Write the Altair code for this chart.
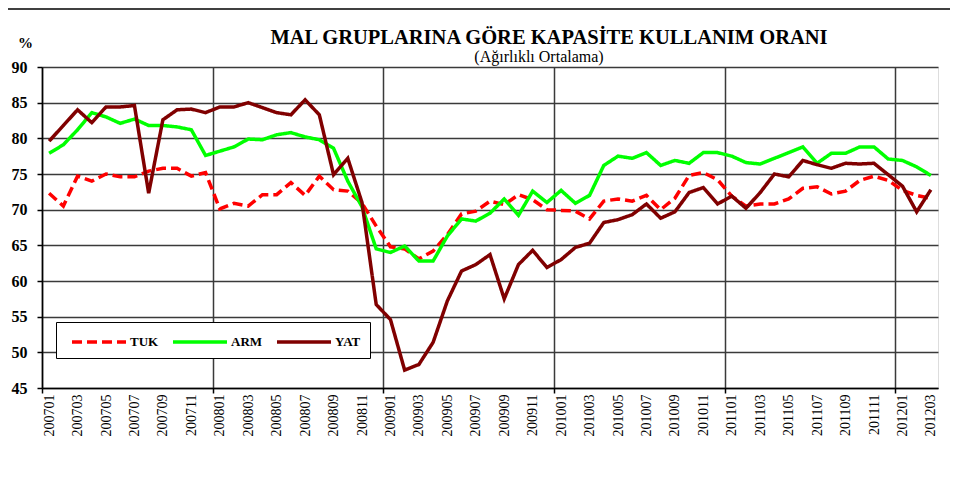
import json
import altair as alt
import pandas as pd

# Monthly labels 2007-01 .. 2012-03
months = [f"{y}{m:02d}" for y in range(2007, 2013) for m in range(1, 13)][:63]

series_names = ["TUK", "ARM", "YAT"]
series_colors = ["#FF0000", "#00FF00", "#800000"]

TUK = [72.3, 70.5, 74.7, 74.0, 75.0, 74.6, 74.6, 75.4, 75.8, 75.8, 74.7, 75.2,
       70.1, 70.9, 70.5, 72.1, 72.1, 73.8, 72.0, 74.7, 72.8, 72.6, 70.9, 67.7,
       64.8, 64.5, 63.1, 64.2, 66.5, 69.4, 69.8, 71.2, 70.7, 72.1, 71.4, 70.0,
       69.9, 69.8, 68.7, 71.2, 71.5, 71.2, 72.0, 70.0, 71.6, 74.8, 75.2, 74.2,
       71.9, 70.5, 70.8, 70.8, 71.5, 73.0, 73.2, 72.2, 72.6, 74.1, 74.7, 74.1,
       72.7, 72.0, 71.6]

ARM = [77.9, 79.1, 81.2, 83.6, 83.0, 82.1, 82.7, 81.8, 81.8, 81.6, 81.2, 77.6,
       78.2, 78.8, 79.9, 79.8, 80.5, 80.8, 80.2, 79.8, 78.6, 74.0, 70.4, 64.5,
       64.0, 64.9, 62.8, 62.8, 66.3, 68.7, 68.4, 69.5, 71.5, 69.2, 72.6, 71.0,
       72.7, 70.9, 72.0, 76.2, 77.5, 77.2, 78.0, 76.2, 76.9, 76.5, 78.0, 78.0,
       77.5, 76.6, 76.4, 77.2, 78.0, 78.8, 76.5, 77.9, 77.9, 78.8, 78.8, 77.1,
       76.9, 76.0, 74.8]

YAT = [79.6, 81.8, 84.0, 82.2, 84.4, 84.4, 84.6, 72.3, 82.6, 84.0, 84.1, 83.6,
       84.4, 84.4, 85.0, 84.3, 83.6, 83.3, 85.4, 83.3, 74.9, 77.2, 71.0, 56.7,
       54.6, 47.5, 48.3, 51.4, 57.2, 61.4, 62.3, 63.7, 57.5, 62.3, 64.3, 61.9,
       63.0, 64.7, 65.3, 68.2, 68.6, 69.3, 70.8, 68.8, 69.7, 72.4, 73.1, 70.8,
       71.9, 70.2, 72.4, 75.0, 74.6, 76.9, 76.3, 75.8, 76.5, 76.4, 76.5, 74.9,
       73.3, 69.7, 72.8]

y_ticks = [45, 50, 55, 60, 65, 70, 75, 80, 85, 90]
year_bounds = [-0.5, 11.5, 23.5, 35.5, 47.5, 59.5]

title_text = "MAL GRUPLARINA GÖRE KAPASİTE KULLANIM ORANI"
subtitle_text = "(Ağırlıklı Ortalama)"

rows = []
for name, vals in zip(series_names, [TUK, ARM, YAT]):
    for i, v in enumerate(vals):
        rows.append({"idx": i, "month": months[i], "series": name, "value": v})
df = pd.DataFrame(rows)

label_expr = ("datum.value % 2 == 0 ? " + json.dumps(months) +
              "[datum.value] : ''")

legend = alt.Legend(
    title=None, orient="none", legendX=14, legendY=255, direction="horizontal",
    symbolType="M-1,0H5", symbolSize=324, symbolStrokeWidth=3.5,
    symbolOffset=5,
    labelFont="Liberation Serif", labelFontWeight="bold", labelFontSize=13,
    labelColor="black", labelOffset=38, columnPadding=7,
    strokeColor="black", fillColor="white", padding=9,
)

x_axis = alt.Axis(
    values=year_bounds + list(range(0, 63, 2)),
    labelExpr=label_expr, labelAngle=270, labelFont="Liberation Serif",
    labelFontSize=14, labelColor="black", labelPadding=1, labelOverlap=False,
    labelBound=False, labelFlush=False, title=None,
    tickSize=5, tickColor="black", tickWidth=1.5,
    tickOpacity={"condition": {"test": "datum.value % 1 != 0", "value": 1}, "value": 0},
    grid=True, gridColor="#3a3a3a", gridWidth=1.5,
    gridOpacity={"condition": {"test": "datum.value % 1 != 0", "value": 1}, "value": 0},
    domainColor="black", domainWidth=1.5,
)

y_axis = alt.Axis(
    values=y_ticks, labelFont="Liberation Serif", labelFontWeight="bold",
    labelFontSize=16, labelColor="black", labelPadding=10,
    tickSize=5, tickColor="black", tickWidth=1.5,
    grid=True, gridColor="#3a3a3a", gridWidth=1.5,
    domainColor="black", domainWidth=1.5,
    title="%", titleAngle=0, titleX=-17, titleY=-20, titleAlign="center",
    titleBaseline="alphabetic", titleFont="Liberation Serif",
    titleFontWeight="bold", titleFontSize=15, titleColor="black",
)

lines = alt.Chart(df).mark_line(strokeWidth=3.5, clip=False).encode(
    x=alt.X("idx:Q", scale=alt.Scale(domain=[-0.5, 62.5], nice=False, zero=False), axis=x_axis),
    y=alt.Y("value:Q", scale=alt.Scale(domain=[45, 90], nice=False, zero=False), axis=y_axis),
    color=alt.Color("series:N", scale=alt.Scale(domain=series_names, range=series_colors), legend=legend),
    strokeDash=alt.StrokeDash("series:N", scale=alt.Scale(domain=series_names, range=[[10, 5], [1, 0], [1, 0]]), legend=legend),
    order=alt.Order("idx:Q"),
)

one = alt.Data(values=[{"title": title_text, "subtitle": subtitle_text}])
frame_top = alt.Chart(one).mark_rule(color="black", strokeWidth=1.5).encode(
    x=alt.value(-37), x2=alt.value(930), y=alt.value(-58))
frame_left = alt.Chart(one).mark_rule(color="black", strokeWidth=1.5).encode(
    x=alt.value(-37), y=alt.value(-58), y2=alt.value(420))
title_mark = alt.Chart(one).mark_text(
    font="Liberation Serif", fontSize=20.5, fontWeight="bold", color="black",
    align="center", baseline="alphabetic").encode(
    text="title:N", x=alt.value(507), y=alt.value(-23))
subtitle_mark = alt.Chart(one).mark_text(
    font="Liberation Serif", fontSize=16, color="black",
    align="center", baseline="alphabetic").encode(
    text="subtitle:N", x=alt.value(497), y=alt.value(-5))

chart = alt.layer(lines, frame_top, frame_left, title_mark, subtitle_mark).properties(
    width=896, height=321,
    autosize="none",
    padding={"left": 34, "top": 59, "right": 12, "bottom": 90},
).configure_view(stroke="#888888", strokeWidth=2).configure(background="white")

chart.save("out.html", embed_options={"renderer": "svg", "actions": False})
